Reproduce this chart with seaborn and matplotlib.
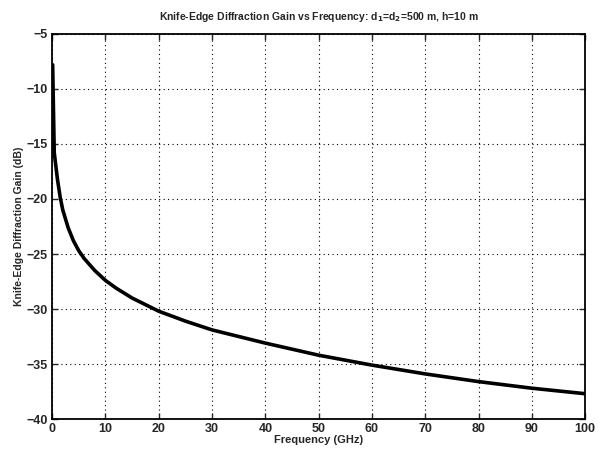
import matplotlib
matplotlib.use("Agg")
import matplotlib.pyplot as plt
import seaborn as sns
import pandas as pd

freq_ghz = [0.1, 0.4, 1, 1.5, 2, 3, 4, 5, 6, 8, 10, 12, 15, 20, 25, 30, 35, 40, 50, 60, 70, 80, 90, 100]
gain_db = [-7.8, -15.8, -18.2, -19.8, -21.0, -22.6, -23.8, -24.7, -25.4, -26.5, -27.4, -28.1,
           -29.0, -30.2, -31.1, -31.9, -32.5, -33.1, -34.2, -35.1, -35.9, -36.6, -37.2, -37.7]
xticks = [0, 10, 20, 30, 40, 50, 60, 70, 80, 90, 100]
yticks = [-40, -35, -30, -25, -20, -15, -10, -5]

sns.set_style("ticks")
plt.rcParams['font.family'] = ['Liberation Sans', 'DejaVu Sans']
plt.rcParams['mathtext.default'] = 'bf'

df = pd.DataFrame({"Frequency": freq_ghz, "Gain": gain_db})

fig = plt.figure(figsize=(5.99, 4.53), dpi=100)
ax = fig.add_axes([0.087, 0.075, 0.890, 0.850])
sns.lineplot(data=df, x="Frequency", y="Gain", ax=ax, color="black", linewidth=2.6)

ax.set_xlim(0, 100)
ax.set_ylim(-40, -5)
ax.set_xticks(xticks)
ax.set_yticks(yticks)
ax.set_xticklabels([str(t) for t in xticks], fontsize=9, fontweight='bold')
ax.set_yticklabels([f"\u2212{abs(t)}" for t in yticks], fontsize=9, fontweight='bold')
ax.tick_params(direction='in', top=True, right=True, length=4, width=1, pad=3)
ax.grid(True, color='black', linestyle=(0, (1, 3)), linewidth=0.8)
for s in ax.spines.values():
    s.set_linewidth(1.3)
    s.set_color('black')

ax.set_xlabel("Frequency (GHz)", fontsize=8, fontweight='bold', labelpad=0)
ax.set_ylabel("Knife-Edge Diffraction Gain (dB)", fontsize=7.5, fontweight='bold', labelpad=2)
ax.set_title("Knife-Edge Diffraction Gain vs Frequency: d$_1$=d$_2$=500 m, h=10 m",
             fontsize=7.5, fontweight='bold', pad=10)

fig.savefig("out.png", dpi=100)
